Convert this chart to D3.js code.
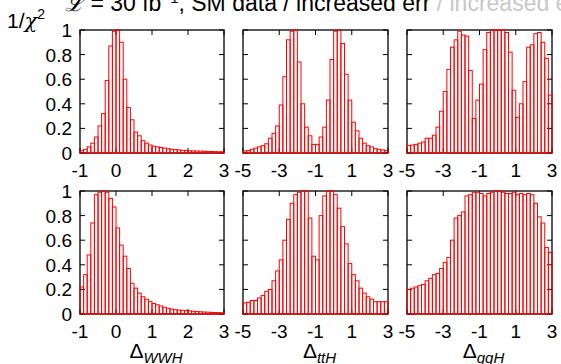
<!DOCTYPE html>
<html>
<head>
<meta charset="utf-8">
<script src="https://cdn.jsdelivr.net/npm/d3@7"></script>
<style>
  body { margin: 0; background: #fff; }
  svg { display: block; font-family: "Liberation Sans", Arial, sans-serif; }
</style>
</head>
<body>
<div id="chart"></div>
<script>
// tick labels / ranges
const yTicks = [0, 0.2, 0.4, 0.6, 0.8, 1];
const wwhTicks = [-1, 0, 1, 2, 3];
const wideTicks = [-5, -3, -1, 1, 3];
const wwhDomain = [-1, 3];
const wideDomain = [-5, 3];
const axisNames = ['WWH', 'ttH', 'ggH'];

// 1/chi^2 per bin (40 bins per panel)
const wwhTop = [0.02, 0.03, 0.05, 0.08, 0.13, 0.22, 0.32, 0.59, 0.87, 0.99,
  1.0, 0.9, 0.6, 0.37, 0.27, 0.17, 0.14, 0.1, 0.08, 0.065,
  0.055, 0.05, 0.045, 0.04, 0.035, 0.03, 0.028, 0.025, 0.022, 0.02,
  0.018, 0.017, 0.016, 0.015, 0.014, 0.013, 0.012, 0.011, 0.01, 0.01];
const tthTop = [0.016, 0.02, 0.03, 0.04, 0.05, 0.06, 0.075, 0.12, 0.16, 0.22,
  0.39, 0.62, 0.92, 0.99, 1.0, 0.74, 0.4, 0.21, 0.14, 0.07,
  0.07, 0.13, 0.21, 0.43, 0.76, 0.99, 1.0, 0.89, 0.64, 0.43,
  0.25, 0.18, 0.12, 0.08, 0.06, 0.05, 0.035, 0.03, 0.025, 0.02];
const gghTop = [0.06, 0.065, 0.07, 0.08, 0.09, 0.12, 0.12, 0.145, 0.21, 0.34,
  0.5, 0.68, 0.86, 0.92, 0.99, 0.96, 0.95, 0.67, 0.28, 0.43,
  0.56, 0.84, 0.98, 1.0, 1.0, 1.0, 1.0, 0.98, 0.82, 0.51,
  0.29, 0.4, 0.58, 0.86, 0.88, 0.97, 0.98, 0.9, 0.77, 0.47];
const wwhBottom = [0.22, 0.32, 0.48, 0.74, 0.97, 0.99, 1.0, 0.99, 0.94, 0.87,
  0.7, 0.56, 0.47, 0.37, 0.25, 0.21, 0.17, 0.14, 0.12, 0.1,
  0.085, 0.075, 0.065, 0.055, 0.047, 0.04, 0.035, 0.032, 0.03, 0.028,
  0.025, 0.022, 0.02, 0.018, 0.016, 0.015, 0.013, 0.012, 0.011, 0.01];
const tthBottom = [0.09, 0.095, 0.11, 0.11, 0.13, 0.15, 0.185, 0.2, 0.27, 0.35,
  0.44, 0.6, 0.77, 0.9, 0.97, 0.99, 1.0, 1.0, 0.78, 0.47,
  0.44, 0.8, 0.96, 1.0, 1.0, 0.97, 0.86, 0.71, 0.57, 0.41,
  0.32, 0.27, 0.21, 0.17, 0.14, 0.12, 0.1, 0.1, 0.1, 0.1];
const gghBottom = [0.2, 0.21, 0.22, 0.23, 0.24, 0.27, 0.29, 0.32, 0.33, 0.37,
  0.42, 0.46, 0.6, 0.78, 0.8, 0.83, 0.96, 0.97, 0.99, 0.99,
  0.98, 0.96, 0.98, 0.99, 1.0, 1.0, 0.99, 0.98, 0.98, 0.99,
  0.97, 0.98, 0.97, 0.98, 0.97, 0.9, 0.79, 0.74, 0.54, 0.5];

const width = 561, height = 364;
const colX = [[80, 224], [243, 388], [407, 552]];
const rowY = [[30, 153], [191, 314]];

const panels = [
  { row: 0, col: 0, domain: wwhDomain, ticks: wwhTicks, values: wwhTop },
  { row: 0, col: 1, domain: wideDomain, ticks: wideTicks, values: tthTop },
  { row: 0, col: 2, domain: wideDomain, ticks: wideTicks, values: gghTop },
  { row: 1, col: 0, domain: wwhDomain, ticks: wwhTicks, values: wwhBottom },
  { row: 1, col: 1, domain: wideDomain, ticks: wideTicks, values: tthBottom },
  { row: 1, col: 2, domain: wideDomain, ticks: wideTicks, values: gghBottom },
];

const svg = d3.select('#chart').append('svg')
  .attr('width', width)
  .attr('height', height);

// title, cut off at the top edge like in the original
const title = svg.append('text')
  .attr('x', 65).attr('y', 11)
  .style('font-size', '23px');
title.append('tspan').style('font-family', 'DejaVu Serif').style('font-style', 'italic').text('\u2112');
title.append('tspan').text(' = 30 fb');
title.append('tspan').attr('dy', -8).style('font-size', '15px').text('\u22121');
title.append('tspan').attr('dy', 8).text(', SM data / increased err');
title.append('tspan').attr('fill', '#c8c8c8').text(' / increased err');

// y label 1/chi^2
const ylab = svg.append('text')
  .attr('x', 7).attr('y', 28)
  .style('font-size', '21px');
ylab.append('tspan').text('1/');
ylab.append('tspan').style('font-family', 'DejaVu Serif').style('font-style', 'italic').text('\u03c7');
ylab.append('tspan').attr('dy', -9).style('font-size', '14px').text('2');

panels.forEach(p => {
  const [x0, x1] = colX[p.col];
  const [yt, yb] = rowY[p.row];
  const x = d3.scaleLinear().domain(p.domain).range([x0, x1]);
  const y = d3.scaleLinear().domain([0, 1]).range([yb, yt]);
  const g = svg.append('g');
  const n = p.values.length;
  const step = (p.domain[1] - p.domain[0]) / n;

  // frame
  g.append('rect')
    .attr('x', x0).attr('y', yt)
    .attr('width', x1 - x0).attr('height', yb - yt)
    .attr('fill', 'none').attr('stroke', '#000').attr('stroke-width', 1.3);

  // inner ticks on all four sides
  g.selectAll('.xtb').data(p.ticks).enter().append('line')
    .attr('x1', d => x(d)).attr('x2', d => x(d))
    .attr('y1', yb).attr('y2', yb - 5)
    .attr('stroke', '#000');
  g.selectAll('.xtt').data(p.ticks).enter().append('line')
    .attr('x1', d => x(d)).attr('x2', d => x(d))
    .attr('y1', yt).attr('y2', yt + 5)
    .attr('stroke', '#000');
  g.selectAll('.ytl').data(yTicks).enter().append('line')
    .attr('x1', x0).attr('x2', x0 + 5)
    .attr('y1', d => y(d)).attr('y2', d => y(d))
    .attr('stroke', '#000');
  g.selectAll('.ytr').data(yTicks).enter().append('line')
    .attr('x1', x1).attr('x2', x1 - 5)
    .attr('y1', d => y(d)).attr('y2', d => y(d))
    .attr('stroke', '#000');

  // histogram bars
  g.selectAll('.bar').data(p.values).enter().append('rect')
    .attr('x', (d, i) => x(p.domain[0] + i * step))
    .attr('width', (d, i) => x(p.domain[0] + (i + 1) * step) - x(p.domain[0] + i * step))
    .attr('y', d => y(d))
    .attr('height', d => yb - y(d))
    .attr('fill', 'none')
    .attr('stroke', '#ff0000')
    .attr('stroke-width', 1);

  // x tick labels
  g.selectAll('.xl').data(p.ticks).enter().append('text')
    .attr('x', d => x(d)).attr('y', yb + 24)
    .attr('text-anchor', 'middle')
    .style('font-size', '19px')
    .text(d => d < 0 ? '-' + Math.abs(d) : d);

  if (p.col === 0) {
    g.selectAll('.yl').data(yTicks).enter().append('text')
      .attr('x', 72).attr('y', d => y(d) + 7)
      .attr('text-anchor', 'end')
      .style('font-size', '19px')
      .text(d => d);
  }

  if (p.row === 1) {
    const t = g.append('text')
      .attr('x', (x0 + x1) / 2 + 4).attr('y', 358)
      .attr('text-anchor', 'middle')
      .style('font-size', '21px');
    t.append('tspan').text('\u0394');
    t.append('tspan').attr('dy', 5).style('font-size', '15px').style('font-style', 'italic')
      .text(axisNames[p.col]);
  }
});
</script>
</body>
</html>
